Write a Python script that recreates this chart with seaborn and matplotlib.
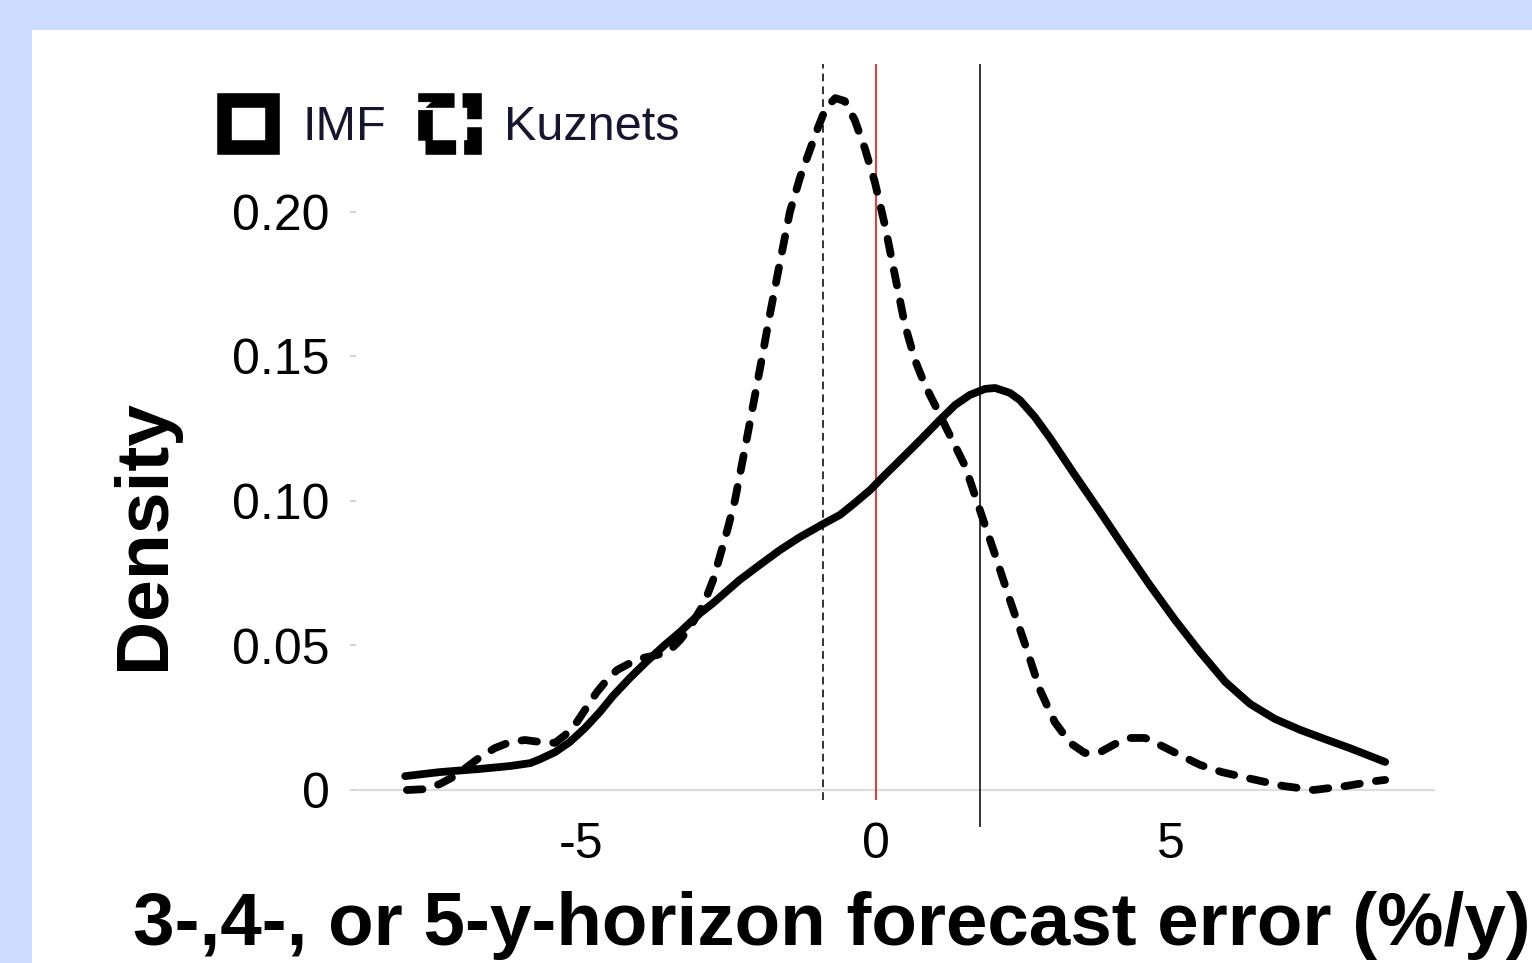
import matplotlib
matplotlib.use("Agg")
import matplotlib.pyplot as plt
from matplotlib.patches import Patch, Rectangle
import seaborn as sns

# ---- data ----
imf_x = [-7.98, -7.39, -6.71, -6.20, -5.86, -5.69, -5.44, -5.19, -4.93, -4.68,
         -4.46, -4.17, -3.88, -3.58, -3.32, -2.98, -2.76, -2.31, -1.97, -1.63,
         -1.29, -0.90, -0.61, -0.36, -0.10, 0.15, 0.41, 0.75, 1.08, 1.34,
         1.59, 1.85, 2.02, 2.27, 2.44, 2.69, 2.95, 3.37, 3.80, 4.22,
         4.64, 5.07, 5.49, 5.92, 6.34, 6.76, 7.19, 7.61, 8.03, 8.63]
imf_density = [0.0048, 0.0062, 0.0073, 0.0083, 0.0093, 0.0107, 0.0131, 0.0166, 0.0215, 0.0270,
               0.0325, 0.0388, 0.0446, 0.0502, 0.0547, 0.0612, 0.0647, 0.0727, 0.0779, 0.0830,
               0.0875, 0.0920, 0.0952, 0.0993, 0.1038, 0.1090, 0.1142, 0.1211, 0.1280, 0.1332,
               0.1367, 0.1388, 0.1391, 0.1374, 0.1349, 0.1291, 0.1218, 0.1090, 0.0962, 0.0834,
               0.0709, 0.0588, 0.0478, 0.0374, 0.0298, 0.0246, 0.0208, 0.0176, 0.0145, 0.0097]

kuz_x = [-7.95, -7.64, -7.39, -7.14, -6.93, -6.71, -6.46, -6.20, -5.95, -5.69,
         -5.44, -5.27, -5.07, -4.90, -4.73, -4.56, -4.39, -4.17, -3.95, -3.71,
         -3.49, -3.32, -3.15, -2.98, -2.88, -2.76, -2.64, -2.51, -2.39, -2.22,
         -2.05, -1.93, -1.80, -1.63, -1.46, -1.29, -1.12, -0.98, -0.85, -0.69,
         -0.53, -0.36, -0.19, -0.02, 0.15, 0.32, 0.49, 0.66, 0.83, 1.00,
         1.25, 1.51, 1.76, 2.02, 2.27, 2.53, 2.78, 3.03, 3.29, 3.54,
         3.80, 4.05, 4.31, 4.56, 4.81, 5.15, 5.49, 5.86, 6.37, 6.90,
         7.42, 7.97, 8.47, 8.63]
kuz_density = [0.0000, 0.0003, 0.0021, 0.0048, 0.0080, 0.0114, 0.0145, 0.0166, 0.0173, 0.0166,
               0.0163, 0.0190, 0.0235, 0.0287, 0.0339, 0.0381, 0.0415, 0.0439, 0.0457, 0.0467,
               0.0484, 0.0519, 0.0564, 0.0623, 0.0664, 0.0727, 0.0813, 0.0907, 0.1003, 0.1183,
               0.1367, 0.1498, 0.1644, 0.1824, 0.2000, 0.2118, 0.2215, 0.2294, 0.2360, 0.2394,
               0.2384, 0.2318, 0.2221, 0.2104, 0.1955, 0.1782, 0.1609, 0.1488, 0.1401, 0.1332,
               0.1228, 0.1121, 0.0969, 0.0813, 0.0657, 0.0502, 0.0346, 0.0235, 0.0163, 0.0128,
               0.0131, 0.0159, 0.0180, 0.0180, 0.0156, 0.0121, 0.0087, 0.0062, 0.0038, 0.0014,
               0.0000, 0.0014, 0.0031, 0.0035]

series_labels = ["IMF", "Kuznets"]
x_ticks = [-5, 0, 5]
x_tick_labels = ["-5", "0", "5"]
y_ticks = [0, 0.05, 0.10, 0.15, 0.20]
y_tick_labels = ["0", "0.05", "0.10", "0.15", "0.20"]
kuz_mean = -0.90
zero_line = 0.0
imf_mean = 1.76
x_label = "3-,4-, or 5-y-horizon forecast error (%/y)"
y_label = "Density"

# ---- styling ----
sns.set_theme(style="white")
plt.rcParams["font.family"] = ["Liberation Sans", "DejaVu Sans"]

W, H = 1532, 963
fig = plt.figure(figsize=(W / 100, H / 100), dpi=100, facecolor="#CCDBFE")
panel = Rectangle((32 / W, 0), 1 - 32 / W, 1 - 30 / H,
                  transform=fig.transFigure, facecolor="white",
                  edgecolor="none", zorder=-10)
fig.patches.append(panel)

left, right, top, bottom = 356, 1435, 60, 805
ax = fig.add_axes([left / W, 1 - bottom / H, (right - left) / W, (bottom - top) / H])
ax.set_zorder(5)
ax.set_facecolor("none")

x0_px, px_per_x = 876, 59.0
y0_px, px_per_y = 790, 2890.0
ax.set_xlim((left - x0_px) / px_per_x, (right - x0_px) / px_per_x)
ax.set_ylim((y0_px - bottom) / px_per_y, (y0_px - top) / px_per_y)

# baseline
ax.axhline(0, color="#dddddd", lw=1.6, zorder=0.5)

# vertical reference lines
vtop = (y0_px - 64) / px_per_y
ax.vlines(kuz_mean, (y0_px - 800) / px_per_y, vtop, colors="#333333", lw=1.4,
          linestyles=(0, (4, 2.6)), zorder=1, clip_on=False)
ax.vlines(zero_line, (y0_px - 800) / px_per_y, vtop, colors="#ee0000", lw=1.1,
          zorder=1, clip_on=False)
ax.vlines(imf_mean, (y0_px - 827) / px_per_y, vtop, colors="black", lw=1.1,
          zorder=1, clip_on=False)

# density curves
sns.lineplot(x=imf_x, y=imf_density, ax=ax, color="black", linewidth=5.6,
             solid_capstyle="round", solid_joinstyle="round", zorder=3)
sns.lineplot(x=kuz_x, y=kuz_density, ax=ax, color="black", linewidth=5.6,
             linestyle=(0, (2.0, 2.1)), dash_capstyle="round",
             dash_joinstyle="round", zorder=3)

# ticks
ax.set_xticks(x_ticks)
ax.set_xticklabels(x_tick_labels)
ax.set_yticks(y_ticks)
ax.set_yticklabels(y_tick_labels)
ax.tick_params(axis="x", length=0, pad=12, labelsize=36, labelcolor="black")
ax.tick_params(axis="y", left=True, length=4, width=1.2, color="#cccccc",
               pad=15, labelsize=36, labelcolor="black")
for s in ax.spines.values():
    s.set_visible(False)
ax.grid(False)

# axis labels
ax.set_xlabel(x_label, fontsize=53.7, fontweight="bold", color="black")
ax.xaxis.set_label_coords((832 - left) / (right - left), (bottom - 945) / (bottom - top))
ax.xaxis.label.set_verticalalignment("baseline")
ax.set_ylabel(y_label, fontsize=54, fontweight="bold", color="black")
ax.yaxis.set_label_coords((145 - left) / (right - left), (bottom - 535) / (bottom - top))
ax.yaxis.label.set_verticalalignment("center")
ax.yaxis.label.set_horizontalalignment("center")

# legend
handles = [
    Patch(facecolor="white", edgecolor="black", linewidth=10.5, label=series_labels[0]),
    Patch(facecolor="white", edgecolor="black", linewidth=10.5,
          linestyle=(0, (2.1, 0.55)), label=series_labels[1]),
]
ax.legend(handles=handles, ncol=2, frameon=False, loc="center left",
          bbox_to_anchor=(223.5 / W, 1 - 125 / H), bbox_transform=fig.transFigure,
          fontsize=35, handlelength=1.0, handleheight=1.1, handletextpad=0.62,
          columnspacing=0.8, borderpad=0, borderaxespad=0, labelcolor="#161630")

fig.savefig("out.png", dpi=100, facecolor=fig.get_facecolor())
